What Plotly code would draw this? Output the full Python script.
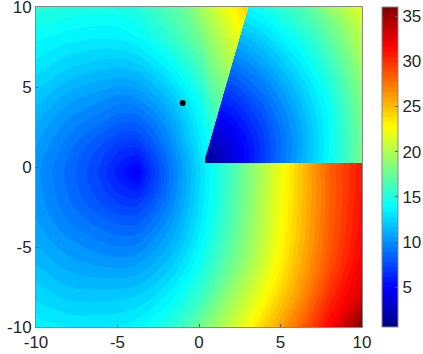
import plotly.graph_objects as go

JET = [[0, "rgb(0,0,131)"], [0.125, "rgb(0,0,255)"], [0.375, "rgb(0,255,255)"],
       [0.625, "rgb(255,255,0)"], [0.875, "rgb(255,0,0)"], [1, "rgb(128,0,0)"]]
Z_MIN, Z_MAX = 0.6, 36.0

# Field outside the wedge
outer_x = [-10, -8, -6, -4.8, -3.8, -2.8, -1.8, -0.8, 0.2, 2, 4, 6, 8, 10]
outer_y = [10, 8, 6, 4, 2.7, 1.7, 0.7, -0.3, -1.3, -2.3, -3.3, -4.3, -6, -8, -10]
outer_z = [
    [15.2, 14.9, 14.7, 14.8, 15.0, 15.9, 16.7, 17.6, 19.8, 22.3, 25.4, 28, 31, 35],
    [14.0, 13.5, 13.3, 13.4, 13.8, 14.5, 15.4, 16.6, 17.9, 20.6, 23.9, 27, 30, 34],
    [12.9, 12.1, 11.6, 11.5, 11.7, 12.5, 13.4, 14.7, 16.1, 19.1, 22.7, 26, 29.5, 33],
    [11.8, 10.6, 9.9, 9.5, 9.7, 10.5, 11.5, 12.9, 14.5, 17.8, 21.6, 25, 28.5, 32],
    [11.1, 9.8, 8.9, 8.3, 8.3, 9.2, 10.5, 12.1, 13.9, 17.1, 21.0, 24.5, 28, 32],
    [10.7, 9.3, 8.0, 7.3, 7.3, 8.4, 9.9, 11.7, 13.5, 16.7, 20.7, 24.3, 28, 32],
    [10.4, 8.9, 7.4, 6.4, 6.0, 7.5, 9.3, 11.2, 13.2, 16.4, 20.4, 24, 28, 31],
    [10.2, 8.7, 7.1, 5.7, 4.8, 7.0, 9.0, 11.0, 13.0, 16.2, 20.2, 24.2, 28.3, 31],
    [10.3, 8.8, 7.3, 6.3, 5.9, 7.3, 9.1, 11.1, 13.1, 16.3, 20.2, 24.2, 28.2, 31],
    [10.4, 9.0, 7.8, 7.2, 7.1, 8.1, 9.6, 11.3, 13.2, 16.4, 20.4, 24.3, 28.2, 31.2],
    [10.6, 9.4, 8.5, 8.1, 8.1, 9.0, 10.2, 11.7, 13.4, 16.6, 20.5, 24.4, 28.3, 31.3],
    [10.9, 9.9, 9.2, 8.9, 9.0, 9.8, 10.8, 12.1, 13.7, 16.9, 20.7, 24.5, 28.4, 31.5],
    [11.6, 10.8, 10.4, 10.3, 10.5, 11.1, 11.9, 13.1, 14.6, 17.6, 21.2, 25.0, 28.8, 32.0],
    [12.6, 12.0, 11.9, 12.0, 12.2, 12.7, 13.5, 14.6, 15.9, 19.2, 22.5, 26.0, 30.0, 33.0],
    [13.6, 13.3, 13.3, 13.4, 13.7, 14.4, 15.1, 16.2, 18.0, 20.8, 24.3, 27.7, 31.5, 36.0],
]

# Field inside the wedge (the left part is hidden by the strip below)
wedge_x = [0.37, 1, 2, 3, 4, 5, 6, 7, 8, 9, 10]
wedge_y = [0.25, 1, 2, 3, 4, 5, 6, 7, 8, 9, 10]
wedge_z = [
    [1.0, 2.1, 3.8, 5.5, 7.2, 9.0, 10.7, 12.4, 14.1, 16.0, 18.0],
    [2.0, 2.4, 3.8, 5.4, 7.1, 8.8, 10.5, 12.2, 13.9, 15.9, 17.9],
    [3.2, 3.4, 4.4, 5.8, 7.3, 8.9, 10.5, 12.2, 13.9, 15.9, 17.8],
    [4.5, 4.6, 5.4, 6.5, 7.8, 9.3, 10.8, 12.4, 14.0, 16.0, 18.0],
    [5.8, 5.9, 6.4, 7.4, 8.5, 9.9, 11.3, 12.8, 14.3, 16.3, 18.2],
    [7.1, 7.1, 7.5, 8.4, 9.4, 10.6, 11.9, 13.3, 14.8, 16.7, 18.7],
    [8.4, 8.4, 8.7, 9.4, 10.4, 11.5, 12.7, 14.0, 15.5, 17.2, 19.2],
    [9.6, 9.7, 9.9, 10.5, 11.4, 12.4, 13.5, 14.7, 16.2, 17.9, 19.9],
    [10.9, 10.95, 11.1, 11.6, 12.4, 13.4, 14.4, 15.5, 17.0, 18.6, 20.4],
    [12.2, 12.2, 12.4, 12.8, 13.5, 14.4, 15.4, 16.4, 17.8, 19.3, 21.0],
    [13.5, 13.5, 13.7, 13.9, 14.6, 15.4, 16.3, 17.4, 19.2, 20.5, 22.0],
]

# Outside values in the strip left of the wedge's slanted edge
strip_x = [0.37, 0.62, 0.87, 1.12, 1.37, 1.62, 1.87, 2.12, 2.37, 2.62, 2.87, 3.12, 3.37, 3.62]
strip_y = [0.25, 0.693, 1.58, 2.467, 3.354, 4.241, 5.128, 6.015, 6.902, 7.789, 8.676, 9.563, 10.45]
strip_rows = [
    [],
    [13.0],
    [13.7, 14.1],
    [14.3, 14.8, 15.2],
    [15.0, 15.4, 15.9, 16.3],
    [15.7, 16.1, 16.5, 17.0, 17.4],
    [16.3, 16.7, 17.2, 17.6, 18.0, 18.4],
    [17.0, 17.4, 17.8, 18.3, 18.7, 19.1, 19.5],
    [17.7, 18.1, 18.5, 18.9, 19.4, 19.8, 20.2, 20.6],
    [18.3, 18.7, 19.2, 19.6, 20.0, 20.4, 20.9, 21.3, 21.7],
    [19.0, 19.4, 19.8, 20.3, 20.7, 21.1, 21.5, 22.0, 22.4, 22.8],
    [19.7, 20.1, 20.5, 20.9, 21.4, 21.8, 22.2, 22.6, 23.1, 23.5, 23.9],
    [20.3, 20.7, 21.2, 21.6, 22.0, 22.4, 22.9, 23.3, 23.7, 24.1, 24.6, 25.0],
]

dot_x = [-1]
dot_y = [4]
axis_ticks = [-10, -5, 0, 5, 10]
axis_labels = ["-10", "-5", "0", "5", "10"]
bar_ticks = [5, 10, 15, 20, 25, 30, 35]

FONT = dict(family="Liberation Sans, Arial, sans-serif", size=17, color="#262626")
levels = dict(start=Z_MIN, end=Z_MAX, size=(Z_MAX - Z_MIN) / 64, coloring="fill", showlines=False)

fig = go.Figure()
fig.add_trace(go.Contour(
    x=outer_x, y=outer_y[::-1], z=outer_z[::-1], colorscale=JET, zmin=Z_MIN, zmax=Z_MAX,
    autocontour=False, contours=levels, line=dict(width=0),
    colorbar=dict(
        x=1.061, xanchor="left", xpad=0, y=0.5, yanchor="middle", ypad=0,
        len=1, lenmode="fraction", thickness=16, thicknessmode="pixels",
        tickmode="array", tickvals=bar_ticks, ticks="inside", ticklen=3, tickcolor="#555555",
        tickfont=FONT, outlinecolor="#888888", outlinewidth=1,
    ),
))
fig.add_trace(go.Contour(
    x=wedge_x, y=wedge_y, z=wedge_z, colorscale=JET, zmin=Z_MIN, zmax=Z_MAX,
    autocontour=False, contours=levels, line=dict(width=0), showscale=False,
))
fig.add_trace(go.Contour(
    x=strip_x, y=strip_y,
    z=[r + [None] * (len(strip_x) - len(r)) for r in strip_rows],
    colorscale=JET, zmin=Z_MIN, zmax=Z_MAX, showscale=False, connectgaps=False,
    autocontour=False, contours=levels, line=dict(width=0),
))
fig.add_trace(go.Scatter(
    x=dot_x, y=dot_y, mode="markers", showlegend=False,
    marker=dict(color="black", size=6),
))

axis = dict(
    range=[-10, 10], tickmode="array", tickvals=axis_ticks, ticktext=axis_labels,
    ticks="inside", ticklen=3, tickcolor="#555555", tickfont=FONT, showgrid=False,
    zeroline=False, showline=True, linecolor="#888888", linewidth=1, mirror=True,
    ticklabeloverflow="allow",
)
fig.update_layout(
    width=423, height=354, margin=dict(l=36, r=61, t=7, b=27, autoexpand=False),
    paper_bgcolor="white", plot_bgcolor="white", showlegend=False,
    xaxis=axis, yaxis=axis,
)
fig.write_html("out.html", config={"displayModeBar": False},
               post_script="document.body.style.margin='0';")
